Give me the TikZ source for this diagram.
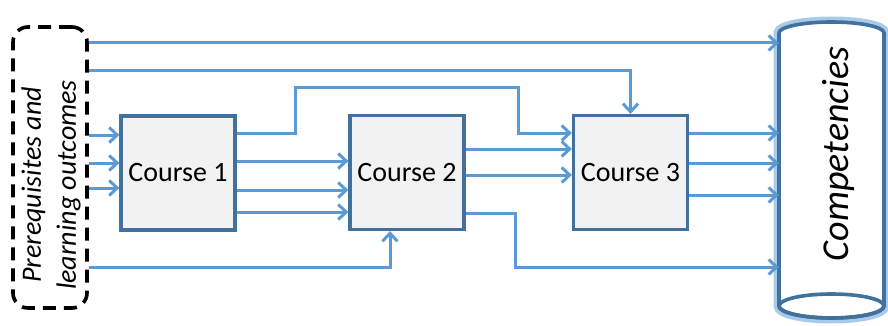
\documentclass[tikz,border=0pt]{standalone}
\usepackage{fontspec}
\setmainfont{Carlito}
\usetikzlibrary{arrows.meta}
\definecolor{lineblue}{HTML}{5B9BD5}
\definecolor{boxblue}{HTML}{41719C}
\definecolor{boxfill}{HTML}{F2F2F2}
\definecolor{glowblue}{HTML}{A9CBEA}
\begin{document}
\begin{tikzpicture}[x=1pt,y=-1pt,
  course/.style={draw=boxblue, fill=boxfill, line width=3.2pt, minimum width=114pt, minimum height=114pt, inner sep=0pt, font=\fontsize{28}{32}\selectfont},
  arr/.style={draw=lineblue, line width=3pt, -{Straight Barb[length=8pt,width=15pt]}},
  prebox/.style={draw=black, line width=3.6pt, dash pattern=on 13pt off 8pt, rounded corners=15pt, minimum width=74pt, minimum height=281pt},
  cylline/.style={draw=boxblue, line width=3.6pt},
  cylglow/.style={draw=glowblue, line width=11pt},
]
\useasboundingbox (0,0) rectangle (888,326);

% competencies cylinder
\coordinate (cylbot) at (831.5,306);
\path[cylglow] (779,33) arc[start angle=180,end angle=0,x radius=52.5pt,y radius=11pt] -- (884,306) arc[start angle=0,end angle=-180,x radius=52.5pt,y radius=12pt] -- cycle;
\path[fill=white, cylline] (779,33) arc[start angle=180,end angle=0,x radius=52.5pt,y radius=11pt] -- (884,306) arc[start angle=0,end angle=-180,x radius=52.5pt,y radius=12pt] -- cycle;
\path[cylline] (cylbot) ellipse[x radius=52.5pt,y radius=12pt];
\node[minimum width=105pt, minimum height=280pt, inner sep=0pt] (comp) at (831.5,168) {};
\node[rotate=90, font=\fontsize{38}{40}\selectfont\itshape] (comptext) at (838,154) {Competencies};

% prerequisites
\node[prebox] (pre) at (50,167.5) {};
\node[rotate=90, align=center, font=\fontsize{28}{35}\selectfont\itshape] (pretext) at (51,185) {Prerequisites and\\learning outcomes};

% courses
\node[course] (c1) at (178,173) {Course 1};
\node[course] (c2) at (407,172.5) {Course 2};
\node[course] (c3) at (630.5,172.5) {Course 3};

% connectors
\draw[arr] (pre.east |- 0,43) -- (comp.west |- 0,43);
\draw[arr] (pre.east |- 0,71) -| (c3.north);
\draw[arr] (c1.east |- 0,133) -| (295,88) -| (518,133) -- (c3.west |- 0,133);
\draw[arr] (pre.east |- 0,135) -- (c1.west |- 0,135);
\draw[arr] (pre.east |- 0,163) -- (c1.west |- 0,163);
\draw[arr] (pre.east |- 0,188) -- (c1.west |- 0,188);
\draw[arr] (c1.east |- 0,161) -- (c2.west |- 0,161);
\draw[arr] (c1.east |- 0,190) -- (c2.west |- 0,190);
\draw[arr] (c1.east |- 0,212) -- (c2.west |- 0,212);
\draw[arr] (pre.east |- 0,267) -| ([xshift=-17pt]c2.south);
\draw[arr] (c2.east |- 0,149) -- (c3.west |- 0,149);
\draw[arr] (c2.east |- 0,175) -- (c3.west |- 0,175);
\draw[arr] (c2.east |- 0,213) -| (515,267) -- (comp.west |- 0,267);
\draw[arr] (c3.east |- 0,133) -- (comp.west |- 0,133);
\draw[arr] (c3.east |- 0,163) -- (comp.west |- 0,163);
\draw[arr] (c3.east |- 0,195) -- (comp.west |- 0,195);
\end{tikzpicture}
\end{document}
